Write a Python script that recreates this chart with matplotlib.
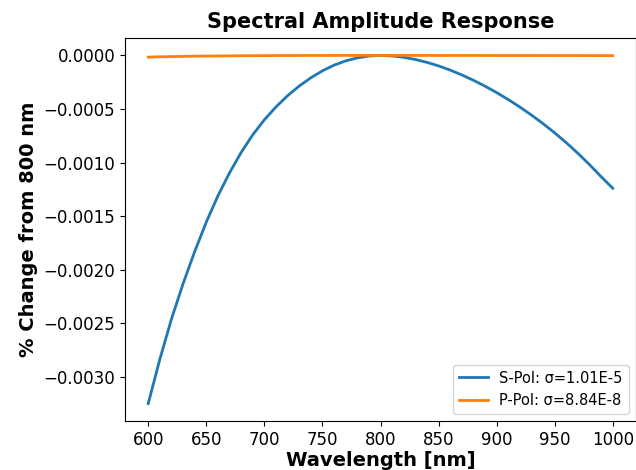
import numpy as np
import matplotlib
matplotlib.use('Agg')
import matplotlib.pyplot as plt

# wavelength grid (nm)
wavelength = [600, 610, 620, 630, 640, 650, 660, 670, 680, 690, 700,
              710, 720, 730, 740, 750, 760, 770, 780, 790, 800,
              810, 820, 830, 840, 850, 860, 870, 880, 890, 900,
              910, 920, 930, 940, 950, 960, 970, 980, 990, 1000]

# % change from 800 nm (units of 1e-5)
s_pol_e5 = [-325.0, -283.6, -246.1, -213.1, -183.1, -155.6,
            -131.1, -109.6, -90.6, -74.1, -60.1,
            -48.1, -37.6, -28.6, -20.9, -14.4,
            -9.1, -5.1, -2.3, -0.6, 0.0,
            -0.5, -1.8, -3.8, -6.5, -9.8,
            -13.7, -18.2, -23.2, -28.7, -34.7,
            -41.2, -48.2, -55.7, -63.7, -72.3,
            -81.5, -91.4, -102.0, -113.2, -124.0]

p_pol_e5 = [-1.6, -1.3, -1.1, -0.9, -0.7, -0.6,
            -0.5, -0.4, -0.3, -0.25, -0.2,
            -0.15, -0.1, -0.08, -0.05, -0.03,
            -0.02, -0.01, 0.0, 0.0, 0.0,
            0.0, 0.0, -0.01, -0.02, -0.03,
            -0.04, -0.05, -0.06, -0.07, -0.08,
            -0.09, -0.1, -0.11, -0.12, -0.13,
            -0.14, -0.15, -0.16, -0.17, -0.18]

labels = ['S-Pol: σ=1.01E-5', 'P-Pol: σ=8.84E-8']

s_pol = np.array(s_pol_e5) * 1e-5
p_pol = np.array(p_pol_e5) * 1e-5

fig = plt.figure(figsize=(6.36, 4.70), dpi=100)
ax = fig.add_axes([125/636, 1 - 421/470, 511/636, 383/470])

ax.plot(wavelength, s_pol, linewidth=2, label=labels[0])
ax.plot(wavelength, p_pol, linewidth=2, label=labels[1])

ax.set_title('Spectral Amplitude Response', fontsize=15, fontweight='bold', pad=7)
ax.set_xlabel('Wavelength [nm]', fontsize=14, fontweight='bold', labelpad=2)
ax.set_ylabel('% Change from 800 nm', fontsize=14, fontweight='bold')
ax.tick_params(labelsize=12)
ax.set_xticks(np.arange(600, 1001, 50))
ax.legend(loc='lower right', fontsize=10.5)

fig.savefig('out.png', dpi=100)
